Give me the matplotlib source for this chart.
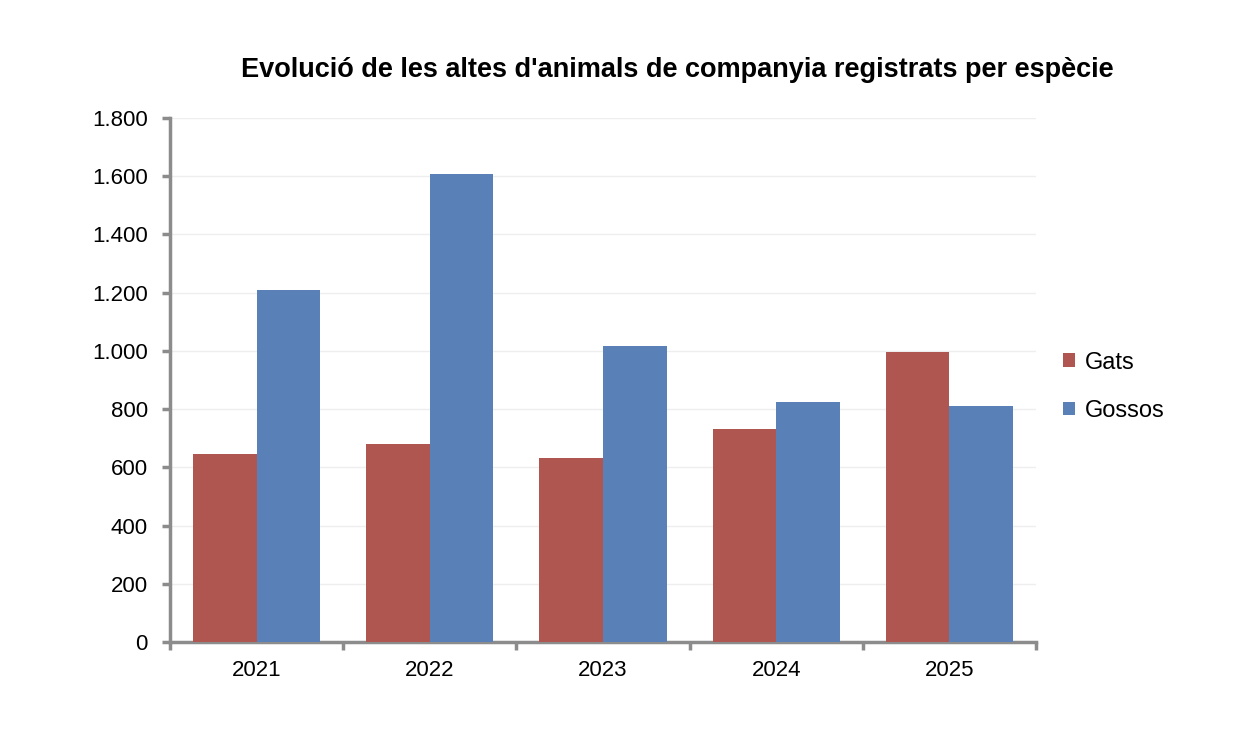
import numpy as np
import matplotlib
matplotlib.use("Agg")
import matplotlib.pyplot as plt
from matplotlib.ticker import FuncFormatter, FixedLocator

plt.rcParams["font.family"] = ["Liberation Sans", "DejaVu Sans"]

years = ["2021", "2022", "2023", "2024", "2025"]
gats = [645, 680, 632, 732, 996]
gossos = [1209, 1608, 1017, 824, 811]

RED = "#b05651"
BLUE = "#5a80b8"
AXIS = "#8c8c8c"

fig = plt.figure(figsize=(12.4, 7.42), dpi=100)
ax = fig.add_axes([0.1371, 0.1348, 0.8355 - 0.1371, 0.841 - 0.1348])

x = np.arange(len(years))
w = 0.367
ax.bar(x - w / 2, gats, w, color=RED, label="Gats", zorder=3)
ax.bar(x + w / 2, gossos, w, color=BLUE, label="Gossos", zorder=3)

ax.set_xlim(-0.5, len(years) - 0.5)
ax.set_ylim(0, 1800)
ax.set_yticks(np.arange(0, 1801, 200))
ax.yaxis.set_major_formatter(FuncFormatter(lambda v, p: f"{int(v):,}".replace(",", ".")))
ax.set_xticks(x, years)
ax.xaxis.set_minor_locator(FixedLocator(np.arange(-0.5, len(years), 1.0)))
ax.tick_params(axis="x", which="major", length=0, pad=13, labelsize=16)
ax.tick_params(axis="x", which="minor", length=6, width=2.5, color=AXIS, direction="out")
ax.tick_params(axis="y", length=6, width=2.5, color=AXIS, direction="out", labelsize=16, pad=10)

ax.grid(axis="y", color="#eeeeee", linewidth=1, zorder=0)
for side in ("top", "right"):
    ax.spines[side].set_visible(False)
for side in ("left", "bottom"):
    ax.spines[side].set_color(AXIS)
    ax.spines[side].set_linewidth(2.5)

fig.text(677 / 1240, 1 - 70 / 742, "Evolució de les altes d'animals de companyia registrats per espècie",
         ha="center", va="center", fontsize=19.5, fontweight="bold")

ax.legend(loc="center left", bbox_to_anchor=(1.007, 0.487), frameon=False, fontsize=17,
          handlelength=0.5, handleheight=0.5, handletextpad=0.4, labelspacing=1.12)

fig.savefig("out.png", dpi=100)
